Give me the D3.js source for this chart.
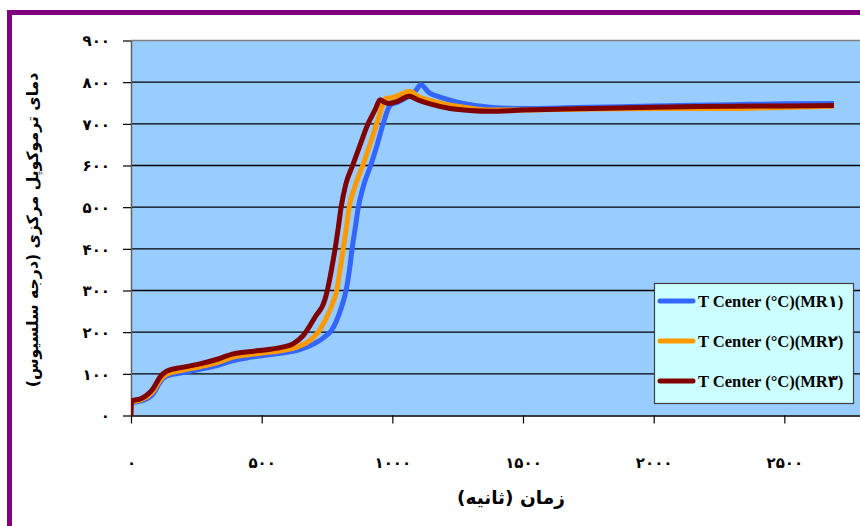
<!DOCTYPE html>
<html><head><meta charset="utf-8">
<script src="https://cdn.jsdelivr.net/npm/d3@7"></script>
<style>
html,body{margin:0;padding:0;background:#fff;overflow:hidden;}
svg{display:block;}
</style></head>
<body>
<script>
// ---- data (time in seconds, temperature in °C) ----
const seriesNames = ["T Center (°C)(MR۱)", "T Center (°C)(MR۲)", "T Center (°C)(MR۳)"];
const seriesColors = ["#3366FF", "#FF9900", "#800000"];
const mr1 = [[0,31],[40,35],[85,52],[111,80],[136,95],[200,103],[264,111],[330,120],[391,132],[450,139],[519,145],[580,150],[640,157],[700,172],[740,188],[768,205],[800,250],[823,300],[835,345],[846,400],[858,450],[870,500],[890,552],[917,600],[942,650],[965,700],[991,744],[1020,752],[1060,765],[1090,780],[1109,794],[1140,775],[1182,764],[1271,749],[1374,740],[1500,737],[1700,739],[2000,743],[2300,746],[2500,748],[2690,749]];
const mr2 = [[0,33],[40,38],[85,58],[111,85],[136,99],[200,109],[264,117],[330,127],[391,140],[450,146],[519,151],[580,156],[630,163],[680,178],[716,200],[750,238],[772,270],[787,300],[800,350],[812,400],[824,450],[835,500],[858,552],[887,600],[914,650],[940,700],[960,740],[972,760],[1000,763],[1030,770],[1068,778],[1100,765],[1144,756],[1200,747],[1271,740],[1374,733],[1500,733],[1700,735],[2000,737],[2300,737],[2400,738],[2690,742]];
const mr3 = [[0,0],[2,35],[40,41],[85,65],[111,92],[136,106],[200,116],[264,124],[330,135],[391,148],[450,153],[519,158],[580,164],[620,172],[659,192],[704,236],[742,278],[758,320],[770,360],[781,400],[793,450],[804,500],[822,555],[848,600],[877,650],[907,700],[935,735],[953,758],[970,752],[984,749],[1020,754],[1064,766],[1100,757],[1144,748],[1221,737],[1297,732],[1374,730],[1500,733],[1700,736],[2000,740],[2300,742],[2500,743],[2690,744]];
const series = [mr1, mr2, mr3];
const xTicks = [0,500,1000,1500,2000,2500];
const yTicks = [0,100,200,300,400,500,600,700,800,900];
const xTitle = "زمان (ثانیه)";
const yTitle = "دمای ترموکوپل مرکزی (درجه سلسیوس)";

const W = 860, H = 526;
const faDigits = "۰۱۲۳۴۵۶۷۸۹";
const fa = v => String(v).replace(/[0-9]/g, d => faDigits[+d]);

const svg = d3.select("body").append("svg").attr("width", W).attr("height", H);

// outer purple frame
svg.append("rect").attr("x", 9.5).attr("y", 12.5).attr("width", 900).attr("height", 600)
  .attr("fill", "#fff").attr("stroke", "#800080").attr("stroke-width", 5);

const x = d3.scaleLinear().domain([0, 3000]).range([131, 915]);
const y = d3.scaleLinear().domain([0, 900]).range([415.5, 40.5]);

// plot area
svg.append("rect").attr("x", x(0)).attr("y", y(900)).attr("width", x(3000) - x(0)).attr("height", y(0) - y(900))
  .attr("fill", "#99CCFF");

// gridlines
svg.append("g").selectAll("line").data(yTicks.filter(v => v > 0 && v < 900)).join("line")
  .attr("x1", x(0)).attr("x2", x(3000)).attr("y1", d => y(d)).attr("y2", d => y(d))
  .attr("stroke", "#000").attr("stroke-width", 1.3);
svg.append("line").attr("x1", x(0)).attr("x2", x(3000)).attr("y1", y(900)).attr("y2", y(900))
  .attr("stroke", "#808080").attr("stroke-width", 1.5);

const fontFa = "'DejaVu Sans',sans-serif";
const fontLat = "'Liberation Serif','DejaVu Sans',serif";

// y axis
const yAxis = svg.append("g").attr("transform", `translate(${x(0)},0)`)
  .call(d3.axisLeft(y).tickValues(yTicks).tickSize(8).tickSizeOuter(0).tickFormat(fa));
yAxis.select(".domain").attr("stroke", "#606060").attr("stroke-width", 1.5);
yAxis.selectAll(".tick line").attr("stroke", "#000").attr("stroke-width", 1.2);
yAxis.selectAll("text").attr("x", -21).attr("dy", "0.35em")
  .attr("font-family", fontFa).attr("font-weight", "bold").attr("font-size", 15).attr("fill", "#000");

// x axis
const xAxis = svg.append("g").attr("transform", `translate(0,${y(0)})`)
  .call(d3.axisBottom(x).tickValues(xTicks).tickSize(8).tickSizeOuter(0).tickFormat(fa));
xAxis.select(".domain").attr("stroke", "#000").attr("stroke-width", 1.3);
xAxis.selectAll(".tick line").attr("stroke", "#000").attr("stroke-width", 1.2);
xAxis.selectAll("text").attr("y", 47).attr("dy", "0.35em")
  .attr("font-family", fontFa).attr("font-weight", "bold").attr("font-size", 15).attr("fill", "#000");

// lines
svg.append("clipPath").attr("id", "pc").append("rect")
  .attr("x", x(0)).attr("y", y(900)).attr("width", x(3000) - x(0)).attr("height", y(0) - y(900) + 3);
const line = d3.line().x(d => x(d[0])).y(d => y(d[1])).curve(d3.curveMonotoneX);
svg.append("g").attr("clip-path", "url(#pc)").selectAll("path").data(series).join("path")
  .attr("d", line).attr("fill", "none").attr("stroke", (d, i) => seriesColors[i])
  .attr("stroke-width", 5).attr("stroke-linejoin", "round").attr("stroke-linecap", "butt");

// legend
const lg = svg.append("g");
lg.append("rect").attr("x", 654.5).attr("y", 283.5).attr("width", 199).attr("height", 120)
  .attr("fill", "#CCFFFF").attr("stroke", "#404040").attr("stroke-width", 1.2);
const ly = [301, 341, 381];
seriesNames.forEach((n, i) => {
  lg.append("line").attr("x1", 660).attr("x2", 693).attr("y1", ly[i]).attr("y2", ly[i])
    .attr("stroke", seriesColors[i]).attr("stroke-width", 5).attr("stroke-linecap", "round");
  lg.append("text").attr("x", 698).attr("y", ly[i] + 6).text(n)
    .attr("font-family", fontLat).attr("font-weight", "bold").attr("font-size", 16.5).attr("fill", "#000");
});

// axis titles
svg.append("text").attr("x", 457).attr("y", 504).attr("text-anchor", "end").attr("direction", "rtl")
  .attr("font-family", fontFa).attr("font-weight", "bold").attr("font-size", 18.5).text(xTitle);
svg.append("text").attr("transform", "translate(38,230) rotate(-90)").attr("text-anchor", "middle")
  .attr("direction", "rtl").attr("font-family", fontFa).attr("font-weight", "bold").attr("font-size", 15.7).text(yTitle);
</script>
</body></html>
